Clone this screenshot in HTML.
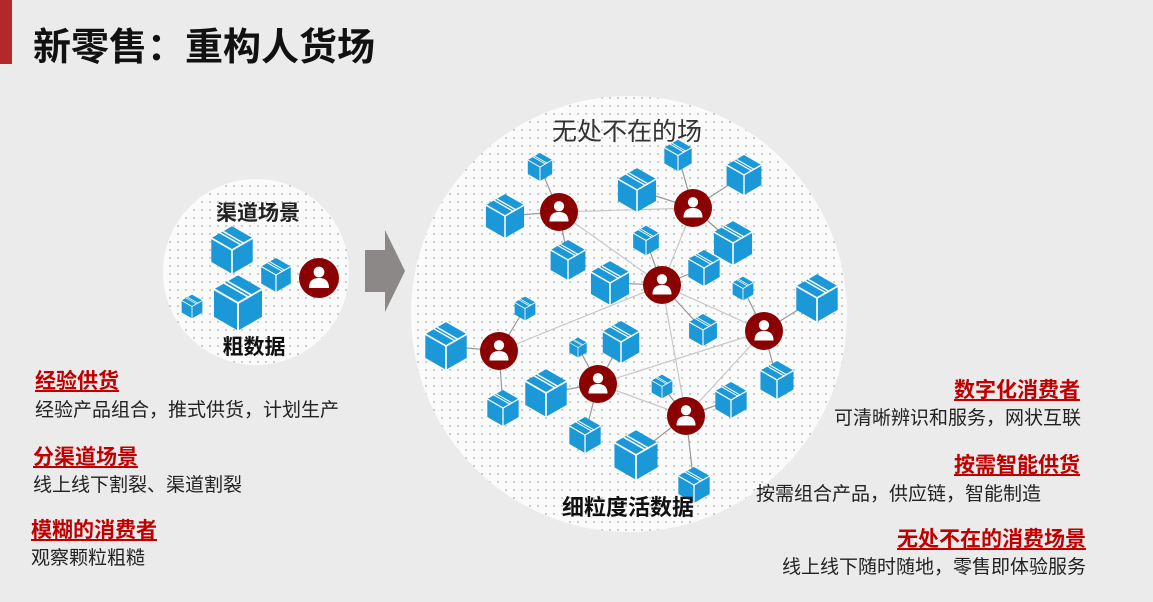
<!DOCTYPE html>
<html><head><meta charset="utf-8"><style>
body{margin:0;width:1153px;height:602px;background:#ebebeb;overflow:hidden;position:relative;font-family:"Liberation Sans","Noto Sans CJK SC",sans-serif;}
.t{position:absolute;white-space:nowrap}
.h{color:#c00000;font-weight:bold;font-size:21px;text-decoration:underline}
.d{color:#222;font-size:19px}
</style></head><body>
<div style="position:absolute;left:0;top:0;width:12px;height:64px;background:#b5282a"></div>
<div class="t" style="left:33px;top:16px;font-size:38px;font-weight:bold;color:#111">新零售：重构人货场</div>
<svg width="1153" height="602" style="position:absolute;left:0;top:0">
<defs>
<pattern id="dots" width="8" height="8" patternUnits="userSpaceOnUse"><rect width="8" height="8" fill="#fbfbfb"/><circle cx="2" cy="2" r="0.7" fill="#888"/></pattern>
<symbol id="cube" viewBox="-1 -1.05 2 2.1">
<polygon points="0,-1 0.87,-0.5 0.87,0.5 0,1 -0.87,0.5 -0.87,-0.5" fill="#1a98d8"/>
<polyline points="-0.87,-0.5 0,0 0.87,-0.5" fill="none" stroke="#fff" stroke-width="0.07"/>
<line x1="0" y1="0" x2="0" y2="1" stroke="#fff" stroke-width="0.07"/>
<line x1="-0.5" y1="-0.72" x2="0.37" y2="-0.22" stroke="#fff" stroke-width="0.06"/>
<line x1="-0.37" y1="-0.78" x2="0.5" y2="-0.28" stroke="#fff" stroke-width="0.06"/>
</symbol>
<symbol id="per" viewBox="-1 -1 2 2">
<circle r="1" fill="#8b0000"/>
<circle cy="-0.3" r="0.27" fill="#fff"/>
<path d="M-0.5,0.5 Q-0.5,0 0,0 Q0.5,0 0.5,0.5 Z" fill="#fff"/>
</symbol>
</defs>
<circle cx="256" cy="272" r="93" fill="url(#dots)"/>
<circle cx="629" cy="314" r="218" fill="url(#dots)"/>
<polygon points="365,250 385,250 385,230 405,271 385,312 385,292 365,292" fill="#8c8887"/>
<g stroke="#c8c8c8" stroke-width="1.2">
<line x1="559" y1="212" x2="693" y2="208"/><line x1="559" y1="212" x2="662" y2="285"/>
<line x1="693" y1="208" x2="662" y2="285"/><line x1="662" y1="285" x2="499" y2="351"/>
<line x1="662" y1="285" x2="764" y2="331"/><line x1="662" y1="285" x2="686" y2="416"/>
<line x1="598" y1="384" x2="764" y2="331"/><line x1="598" y1="384" x2="686" y2="416"/>
<line x1="764" y1="331" x2="686" y2="416"/>
</g>
<g stroke="#999" stroke-width="1.2">
<line x1="559" y1="212" x2="540" y2="167"/><line x1="559" y1="212" x2="505" y2="216"/><line x1="559" y1="212" x2="568" y2="260"/>
<line x1="693" y1="208" x2="678" y2="155"/><line x1="693" y1="208" x2="744" y2="175"/><line x1="693" y1="208" x2="637" y2="190"/><line x1="693" y1="208" x2="733" y2="243"/>
<line x1="662" y1="285" x2="646" y2="240"/><line x1="662" y1="285" x2="610" y2="283"/><line x1="662" y1="285" x2="704" y2="268"/><line x1="662" y1="285" x2="703" y2="330"/>
<line x1="499" y1="351" x2="525" y2="308"/><line x1="499" y1="351" x2="446" y2="346"/><line x1="499" y1="351" x2="503" y2="408"/>
<line x1="598" y1="384" x2="578" y2="347"/><line x1="598" y1="384" x2="621" y2="342"/><line x1="598" y1="384" x2="546" y2="393"/><line x1="598" y1="384" x2="585" y2="435"/>
<line x1="764" y1="331" x2="743" y2="288"/><line x1="764" y1="331" x2="817" y2="298"/><line x1="764" y1="331" x2="777" y2="380"/>
<line x1="686" y1="416" x2="662" y2="386"/><line x1="686" y1="416" x2="731" y2="400"/><line x1="686" y1="416" x2="636" y2="455"/><line x1="686" y1="416" x2="694" y2="485"/>
</g>
<g>
<use href="#cube" x="526" y="152" width="28" height="30"/>
<use href="#cube" x="483" y="193" width="44" height="46"/>
<use href="#cube" x="615" y="167" width="44" height="46"/>
<use href="#cube" x="662" y="139" width="32" height="33"/>
<use href="#cube" x="724" y="154" width="40" height="42"/>
<use href="#cube" x="548" y="239" width="40" height="42"/>
<use href="#cube" x="631" y="225" width="30" height="31"/>
<use href="#cube" x="711" y="220" width="44" height="46"/>
<use href="#cube" x="686" y="249" width="36" height="38"/>
<use href="#cube" x="588" y="260" width="44" height="46"/>
<use href="#cube" x="731" y="276" width="24" height="25"/>
<use href="#cube" x="793" y="273" width="48" height="50"/>
<use href="#cube" x="513" y="296" width="24" height="25"/>
<use href="#cube" x="422" y="321" width="48" height="50"/>
<use href="#cube" x="600" y="320" width="42" height="44"/>
<use href="#cube" x="687" y="313" width="32" height="34"/>
<use href="#cube" x="568" y="337" width="20" height="21"/>
<use href="#cube" x="522" y="368" width="48" height="50"/>
<use href="#cube" x="485" y="389" width="36" height="38"/>
<use href="#cube" x="650" y="374" width="24" height="25"/>
<use href="#cube" x="758" y="360" width="38" height="40"/>
<use href="#cube" x="713" y="381" width="36" height="38"/>
<use href="#cube" x="567" y="416" width="36" height="38"/>
<use href="#cube" x="611" y="429" width="50" height="52"/>
<use href="#cube" x="676" y="466" width="36" height="38"/>
<use href="#cube" x="208" y="225" width="48" height="50"/>
<use href="#cube" x="259" y="257" width="34" height="36"/>
<use href="#cube" x="180" y="294" width="24" height="25"/>
<use href="#cube" x="210" y="274" width="56" height="58"/>
</g>
<g>
<use href="#per" x="540" y="193" width="38" height="38"/>
<use href="#per" x="674" y="189" width="38" height="38"/>
<use href="#per" x="643" y="266" width="38" height="38"/>
<use href="#per" x="480" y="332" width="38" height="38"/>
<use href="#per" x="579" y="365" width="38" height="38"/>
<use href="#per" x="745" y="312" width="38" height="38"/>
<use href="#per" x="667" y="397" width="38" height="38"/>
<use href="#per" x="299" y="258" width="40" height="40"/>
</g>
<text x="627" y="140" text-anchor="middle" font-size="25" fill="#333" font-family="Liberation Sans,Noto Sans CJK SC,sans-serif">无处不在的场</text>
<text x="628" y="515" text-anchor="middle" font-size="22" font-weight="bold" fill="#111" font-family="Liberation Sans,Noto Sans CJK SC,sans-serif">细粒度活数据</text>
<text x="258" y="220" text-anchor="middle" font-size="21" font-weight="bold" fill="#222" font-family="Liberation Sans,Noto Sans CJK SC,sans-serif">渠道场景</text>
<text x="254" y="354" text-anchor="middle" font-size="21" font-weight="bold" fill="#111" font-family="Liberation Sans,Noto Sans CJK SC,sans-serif">粗数据</text>
</svg>
<div class="t h" style="left:35px;top:365px">经验供货</div>
<div class="t d" style="left:35px;top:395px">经验产品组合，推式供货，计划生产</div>
<div class="t h" style="left:33px;top:441px">分渠道场景</div>
<div class="t d" style="left:33px;top:470px">线上线下割裂、渠道割裂</div>
<div class="t h" style="left:31px;top:514px">模糊的消费者</div>
<div class="t d" style="left:31px;top:543px">观察颗粒粗糙</div>
<div class="t h" style="right:73px;top:374px">数字化消费者</div>
<div class="t d" style="right:72px;top:403px">可清晰辨识和服务，网状互联</div>
<div class="t h" style="right:73px;top:449px">按需智能供货</div>
<div class="t d" style="right:112px;top:479px">按需组合产品，供应链，智能制造</div>
<div class="t h" style="right:67px;top:523px">无处不在的消费场景</div>
<div class="t d" style="right:67px;top:552px">线上线下随时随地，零售即体验服务</div>
</body></html>
